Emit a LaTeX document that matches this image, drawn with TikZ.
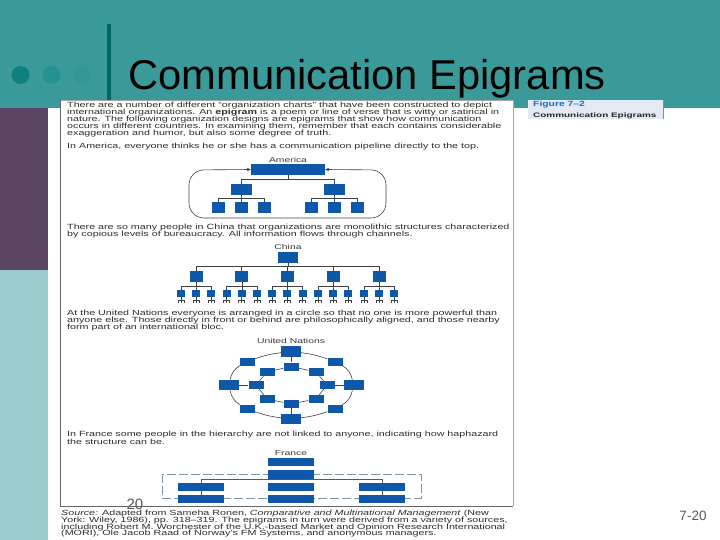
\documentclass[tikz,border=0pt]{standalone}
\usepackage{fontspec}
\setmainfont{Liberation Sans}
\usetikzlibrary{arrows.meta}
\definecolor{teal1}{HTML}{3A9A9A}
\definecolor{lteal}{HTML}{9BCDCD}
\definecolor{purp}{HTML}{5A4565}
\definecolor{bar}{HTML}{006666}
\definecolor{boxb}{HTML}{0F57A8}
\definecolor{frm}{HTML}{666666}
\definecolor{dsh}{HTML}{7C97A8}
\definecolor{figbg}{HTML}{E3EAF5}
\definecolor{figb}{HTML}{1C6FB5}
\definecolor{dotA}{HTML}{0F8080}
\definecolor{dotB}{HTML}{259292}
\definecolor{dotC}{HTML}{349696}
\newcommand{\wideln}[1]{\scalebox{1.43}[1]{#1}}
\newcommand{\widecap}[1]{\scalebox{1.48}[1]{#1}}
\tikzset{
  tline/.style={anchor=west,inner sep=0pt,text=black!82,font=\fontsize{7.5}{8}\selectfont},
  tcap/.style={anchor=center,inner sep=0pt,text=black!78,font=\fontsize{7}{8}\selectfont},
  bx/.style={fill=boxb,draw=none,inner sep=0pt},
  conn/.style={draw=black!75,line width=0.6pt},
  dotn/.style={circle,inner sep=0pt,minimum size=18pt,draw=none},
  bxL/.style={bx,minimum width=#1,minimum height=10.5pt},
  bxF/.style={bx,minimum width=46pt,minimum height=8.5pt},
}
\begin{document}
\begin{tikzpicture}[x=1pt,y=-1pt]
\useasboundingbox (0,0) rectangle (720,540);
\fill[white] (0,0) rectangle (720,540);
\fill[teal1] (0,0) rectangle (720,108);
\fill[purp] (0,108) rectangle (48,270);
\fill[lteal] (0,270) rectangle (48,540);
\fill[bar] (106.5,24) rectangle (110.5,101);
\node[dotn,fill=dotA] (d1) at (20.5,75) {};
\node[dotn,fill=dotB] (d2) at (51.5,75) {};
\node[dotn,fill=dotC] (d3) at (82,75) {};
\node[anchor=base,inner sep=0pt,font=\fontsize{41.7}{44}\selectfont,text=black] (title) at (367,90) {Communication Epigrams};
% source image
\fill[white] (60,100.5) rectangle (513,506);
\draw[frm,line width=0.8pt] (60.5,100.5) -- (60.5,506) -- (513,506);
\draw[black!35,line width=0.7pt] (513,100.5) -- (513,506);
\draw[black!35,line width=0.5pt] (60.5,100.5) -- (513,100.5);
% figure tag
\fill[figbg] (528,100) rectangle (663,119);
\draw[black!45,line width=0.6pt] (663,100) -- (663,119);
\node[anchor=west,inner sep=0pt,text=figb,font=\bfseries\fontsize{7.5}{8}\selectfont] (figa) at (533,105) {\scalebox{1.38}[1]{Figure 7–2}};
\node[anchor=west,inner sep=0pt,text=black!85,font=\bfseries\fontsize{6.5}{8}\selectfont] (figt) at (533,116) {\scalebox{1.53}[1]{Communication Epigrams}};
% text
\node[tline] (p1) at (67,105.5) {\wideln{There are a number of different “organization charts” that have been constructed to depict}};
\node[tline] (p2) at (67,113) {\wideln{international organizations. An \textbf{epigram} is a poem or line of verse that is witty or satirical in}};
\node[tline] (p3) at (67,120) {\wideln{nature. The following organization designs are epigrams that show how communication}};
\node[tline] (p4) at (67,127) {\wideln{occurs in different countries. In examining them, remember that each contains considerable}};
\node[tline] (p5) at (67,133.5) {\wideln{exaggeration and humor, but also some degree of truth.}};
\node[tline] (p6) at (67,146.5) {\wideln{In America, everyone thinks he or she has a communication pipeline directly to the top.}};
\node[tcap] (lam) at (288,159.5) {\widecap{America}};
\node[tline] (p7) at (67,228) {\wideln{There are so many people in China that organizations are monolithic structures characterized}};
\node[tline] (p8) at (67,234.5) {\wideln{by copious levels of bureaucracy. All information flows through channels.}};
\node[tcap] (lch) at (288,247) {\widecap{China}};
\node[tline] (p9) at (67,314) {\wideln{At the United Nations everyone is arranged in a circle so that no one is more powerful than}};
\node[tline] (p10) at (67,321) {\wideln{anyone else. Those directly in front or behind are philosophically aligned, and those nearby}};
\node[tline] (p11) at (67,328) {\wideln{form part of an international bloc.}};
\node[tcap] (lun) at (291,341) {\widecap{United Nations}};
\node[tline] (p12) at (67,434.5) {\wideln{In France some people in the hierarchy are not linked to anyone, indicating how haphazard}};
\node[tline] (p13) at (67,441.5) {\wideln{the structure can be.}};
\node[tcap] (lfr) at (291,453) {\widecap{France}};
\node[tline] (s1) at (61,513.5) {\wideln{\textit{Source:} Adapted from Sameha Ronen, \textit{Comparative and Multinational Management} (New}};
\node[tline] (s2) at (61,520.5) {\wideln{York: Wiley, 1986), pp. 318–319. The epigrams in turn were derived from a variety of sources,}};
\node[tline] (s3) at (61,527.5) {\wideln{including Robert M. Worchester of the U.K.-based Market and Opinion Research International}};
\node[tline] (s4) at (61,534) {\wideln{(MORI), Ole Jacob Raad of Norway’s FM Systems, and anonymous managers.}};
% America
\node[bxL=74pt] (a0) at (288,169.5) {};
\node[bxL=21pt] (a1) at (241.5,189.5) {};
\node[bxL=21pt] (a2) at (334.5,189.5) {};
\foreach \n/\x in {l1/218.5,l2/241.5,l3/264.5,r1/311.5,r2/334.5,r3/357.5}
  \node[bx,minimum width=13pt,minimum height=11pt] (a\n) at (\x,207.5) {};
\draw[conn] (a0.south) -- ++(0,4) -| (a1.north);
\draw[conn] (a0.south) -- ++(0,4) -| (a2.north);
\foreach \p/\k in {a1/al1,a1/al2,a1/al3,a2/ar1,a2/ar2,a2/ar3}
  \draw[conn,line width=0.4pt] (\p.south) -- ++(0,3) -| (\k.north);
\coordinate (aLt) at (189,170);
\coordinate (aLb) at (189,218);
\coordinate (aRb) at (386,218);
\coordinate (aRt) at (386,170);
\draw[conn,rounded corners=15pt,{Stealth[length=4pt,width=3.5pt]}-{Stealth[length=4pt,width=3.5pt]}] (a0.west) -- (aLt) -- (aLb) -- (aRb) -- (aRt) -- (a0.east);
% China
\node[bx,minimum width=20pt,minimum height=11pt] (c0) at (288,257.5) {};
\foreach \i/\x in {1/196,2/241.7,3/287.4,4/333,5/379}{
  \node[bx,minimum width=13pt,minimum height=11pt] (c\i) at (\x,276.5) {};
  \draw[conn] (c0.south) -- ++(0,3) -| (c\i.north);
  \foreach \j/\d in {1/-15.2,2/0,3/15.2}{
    \node[bx,minimum width=8pt,minimum height=7pt] (c\i k\j) at (\x+\d,293.5) {};
    \draw[conn,line width=0.4pt] (c\i.south) -- ++(0,3.5) -| (c\i k\j.north);
    \coordinate (c\i k\j a) at (\x+\d-3,303);
    \coordinate (c\i k\j b) at (\x+\d+3,303);
    \draw[conn,line width=0.45pt] (c\i k\j a) -- ++(0,-3) -- ++(6,0) -- (c\i k\j b);
    \draw[conn,line width=0.45pt] (c\i k\j.south) -- ++(0,6);
  }
}
% United Nations
\node[bx,minimum width=20pt,minimum height=10.5pt] (ut) at (291,351.5) {};
\node[bx,minimum width=20pt,minimum height=10.5pt] (ub) at (291,419) {};
\node[bx,minimum width=20pt,minimum height=10.5pt] (ul) at (228.5,385) {};
\node[bx,minimum width=20pt,minimum height=10.5pt] (ur) at (354,385) {};
\foreach \n/\x/\y in {o1/335/361.5,o2/335/409,o3/247/409,o4/247/361.5,i1/291/366.5,i2/316/372,i3/327/385,i4/316/399,i5/291/404,i6/267/399,i7/256/385,i8/267/372}
  \node[bx,minimum width=15pt,minimum height=8pt] (u\n) at (\x,\y) {};
\draw[conn] (ut) to[bend left=6] (uo1);
\draw[conn] (uo1) to[bend left=22] (ur);
\draw[conn] (ur) to[bend left=22] (uo2);
\draw[conn] (uo2) to[bend left=6] (ub);
\draw[conn] (ub) to[bend left=6] (uo3);
\draw[conn] (uo3) to[bend left=22] (ul);
\draw[conn] (ul) to[bend left=22] (uo4);
\draw[conn] (uo4) to[bend left=6] (ut);
\foreach \a/\b in {ui1/ui2,ui2/ui3,ui3/ui4,ui4/ui5,ui5/ui6,ui6/ui7,ui7/ui8,ui8/ui1,ut/ui1,ub/ui5,ul/ui7,ur/ui3}
  \draw[conn] (\a) -- (\b);
% France
\coordinate (fd1) at (162,474);
\coordinate (fd2) at (421,498);
\draw[dsh,line width=0.8pt,dash pattern=on 9pt off 3pt] (fd1) rectangle (fd2);
\node[bxF] (fc1) at (291,462) {};
\node[bxF] (fc2) at (291,474.5) {};
\node[bxF] (fc3) at (291,487) {};
\node[bxF] (fc4) at (291,499) {};
\node[bxF] (fl1) at (201,487) {};
\node[bxF] (fl2) at (201,499) {};
\node[bxF] (fr1) at (382,487) {};
\node[bxF] (fr2) at (382,499) {};
\draw[conn,draw=black!65] (fl1.north) -- ++(0,-3) -| (fr1.north);
\draw[conn,draw=black!65] (fl1) -- (fl2);
\draw[conn,draw=black!65] (fr1) -- (fr2);
% page numbers
\node[anchor=center,inner sep=0pt,text=black!65,font=\fontsize{15}{16}\selectfont] (n1) at (135,504) {20};
\node[anchor=center,inner sep=0pt,text=black!65,font=\fontsize{13.5}{15}\selectfont] (n2) at (693,516) {7-20};
\end{tikzpicture}
\end{document}
